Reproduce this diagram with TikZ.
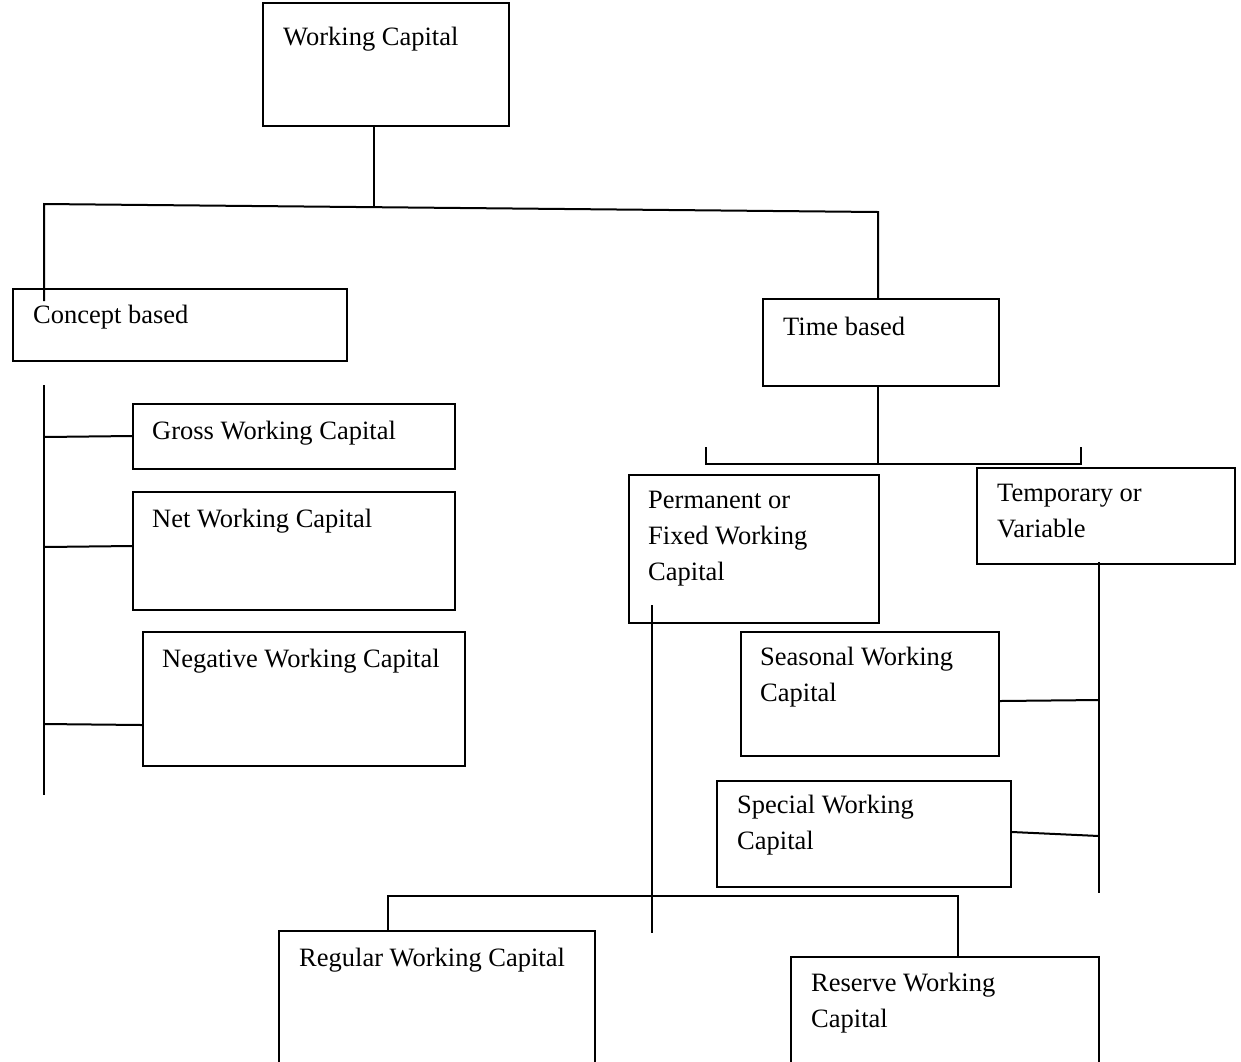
\documentclass[tikz,border=0pt]{standalone}
\usepackage{fontspec}
\setmainfont{Liberation Serif}
\begin{document}
\begin{tikzpicture}[x=1pt,y=-1pt]
\tikzset{
  box/.style={draw, line width=2pt, rectangle, inner sep=0pt, anchor=north west},
  lbl/.style={anchor=base west, inner sep=0pt, align=left, font=\fontsize{26.5}{36}\selectfont},
  ln/.style={line width=2pt}
}
\fill[white] (0,0) rectangle (1241,1061);
\clip (0,0) rectangle (1241,1061);
% boxes
\node[box, minimum width=246pt, minimum height=123pt] (wc) at (262,2) {};
\node[box, minimum width=334pt, minimum height=72pt] (cb) at (12,288) {};
\node[box, minimum width=236pt, minimum height=87pt] (tb) at (762,298) {};
\node[box, minimum width=322pt, minimum height=65pt] (gw) at (132,403) {};
\node[box, minimum width=322pt, minimum height=118pt] (nw) at (132,491) {};
\node[box, minimum width=322pt, minimum height=134pt] (ngw) at (142,631) {};
\node[box, minimum width=250pt, minimum height=148pt] (pf) at (628,474) {};
\node[box, minimum width=258pt, minimum height=96pt] (tv) at (976,467) {};
\node[box, minimum width=258pt, minimum height=124pt] (sw) at (740,631) {};
\node[box, minimum width=294pt, minimum height=106pt] (spw) at (716,780) {};
\node[box, minimum width=316pt, minimum height=160pt] (rw) at (278,930) {};
\node[box, minimum width=308pt, minimum height=140pt] (rsw) at (790,956) {};
% labels (base = baseline of last line)
\node[lbl] (twc) at (283,45) {Working Capital};
\node[lbl] (tcb) at (33,323) {Concept based};
\node[lbl] (ttb) at (783,335) {Time based};
\node[lbl] (tgw) at (152,439) {Gross Working Capital};
\node[lbl] (tnw) at (152,527) {Net Working Capital};
\node[lbl] (tngw) at (162,667) {Negative Working Capital};
\node[lbl] (tpf) at (648,580) {Permanent or\\Fixed Working\\Capital};
\node[lbl] (ttv) at (997,537) {Temporary or\\Variable};
\node[lbl] (tsw) at (760,701) {Seasonal Working\\Capital};
\node[lbl] (tspw) at (737,849) {Special Working\\Capital};
\node[lbl] (trw) at (299,966) {Regular Working Capital};
\node[lbl] (trsw) at (811,1027) {Reserve Working\\Capital};
% coordinates
\coordinate (jl) at (44,204);
\coordinate (jm) at (374,207);
\coordinate (jr) at (878,212);
\coordinate (cbin) at (44,301);
\coordinate (ls1) at (44,385);
\coordinate (ls2) at (44,795);
\coordinate (tbj) at (878,464);
\coordinate (bl) at (706,464);
\coordinate (blt) at (706,447);
\coordinate (br) at (1081,464);
\coordinate (brt) at (1081,447);
\coordinate (pf1) at (652,605);
\coordinate (pf2) at (652,933);
\coordinate (tv2) at (1099,893);
\coordinate (bb1) at (388,896);
\coordinate (bb2) at (958,896);
% connectors
\draw[ln] ([xshift=112pt]wc.south west) -- (jm);
\draw[ln] (cbin) -- (jl) -- (jr) -- ([xshift=116pt]tb.north west);
\draw[ln] (ls1) -- (ls2);
\draw[ln] (44,437) -- ([yshift=0.5pt]gw.west);
\draw[ln] (44,547) -- ([yshift=5pt]nw.west);
\draw[ln] (44,724) -- ([yshift=-26pt]ngw.west);
\draw[ln] ([xshift=116pt]tb.south west) -- (tbj);
\draw[ln] (blt) -- (bl) -- (br) -- (brt);
\draw[ln] (pf1) -- (pf2);
\draw[ln] ([xshift=123pt,yshift=3pt]tv.south west) -- (tv2);
\draw[ln] ([yshift=-7pt]sw.east) -- (1099,700);
\draw[ln] ([yshift=2pt]spw.east) -- (1099,836);
\draw[ln] ([xshift=110pt]rw.north west) -- (bb1) -- (bb2) -- ([xshift=168pt]rsw.north west);
\end{tikzpicture}
\end{document}
